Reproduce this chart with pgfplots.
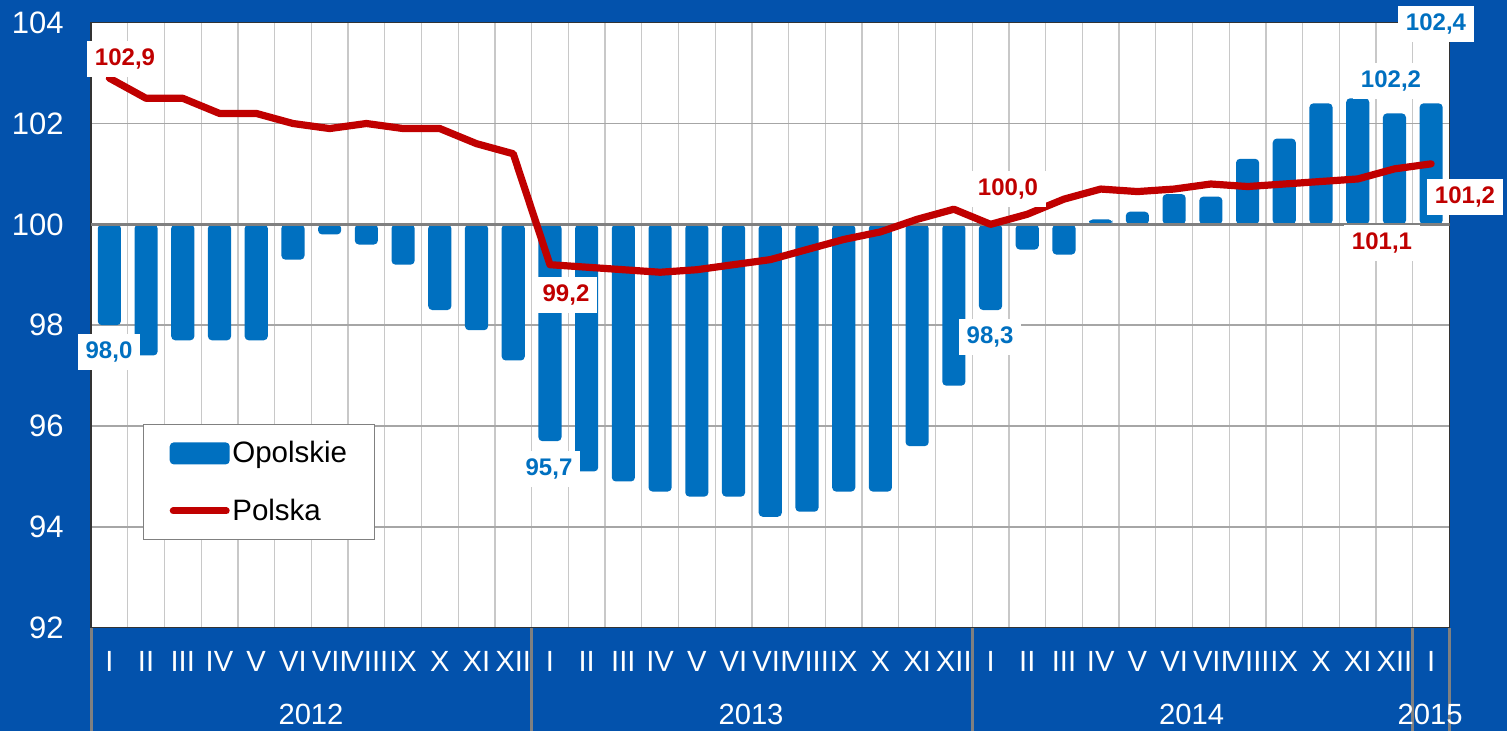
\documentclass[border=0pt]{standalone}
\usepackage{fontspec}
\setmainfont{Liberation Sans}
\usepackage{pgfplots}
\pgfplotsset{compat=1.18}
\definecolor{bgblue}{HTML}{0352AC}
\definecolor{barblue}{HTML}{0070C0}
\definecolor{linered}{HTML}{C00000}
\definecolor{gridgray}{HTML}{C8C8C8}
\definecolor{hgrid}{HTML}{A6A6A6}
\definecolor{basegray}{HTML}{808080}
\begin{document}
\begin{tikzpicture}[x=1pt,y=1pt]
\fill[bgblue] (0,0) rectangle (753.5,365.5);
\begin{axis}[
  at={(45.5pt,51.65pt)}, anchor=south west,
  scale only axis, width=679.25pt, height=302.5pt,
  xmin=-0.5, xmax=36.5, ymin=-8, ymax=4,
  y filter/.expression={y-100},
  axis background/.style={fill=white},
  axis line style={draw=black!80, line width=0.8pt},
  xtick={0,...,36},
  xticklabels={I,II,III,IV,V,VI,VII,VIII,IX,X,XI,XII,I,II,III,IV,V,VI,VII,VIII,IX,X,XI,XII,I,II,III,IV,V,VI,VII,VIII,IX,X,XI,XII,I},
  minor xtick={0.5,1.5,...,35.5},
  xminorgrids=true,
  minor grid style={gridgray, line width=0.65pt},
  ytick={-8,-6,...,4},
  yticklabels={92,94,96,98,100,102,104},
  ymajorgrids=true,
  major grid style={hgrid, line width=0.8pt},
  major tick length=0pt, minor tick length=0pt,
  tick style={draw=none},
  xticklabel style={font=\fontsize{14.6}{14.6}\selectfont, text=white, anchor=base, inner sep=0pt, yshift=-22pt},
  yticklabel style={font=\fontsize{15.5}{15.5}\selectfont, text=white, anchor=east, inner sep=0pt, xshift=-13.5pt},
  legend style={at={(0.0383,0.3366)}, anchor=north west, draw=basegray, line width=0.6pt, fill=white,
    font=\fontsize{14.75}{14.75}\selectfont, inner xsep=11.25pt, inner ysep=0pt, row sep=0pt,
    nodes={inner sep=0pt, minimum height=28.75pt},
    /tikz/every odd column/.append style={column sep=-0.5pt}},
  legend cell align=left,
]
\addplot[ybar, bar width=0.63, bar shift=0pt, fill=barblue, draw=none, rounded corners=2pt,
  legend image code/.code={\fill[barblue, rounded corners=2pt] (0pt,-5.5pt) rectangle (30pt,5.5pt);}]
coordinates {
(0,98.0) (1,97.4) (2,97.7) (3,97.7) (4,97.7) (5,99.3) (6,99.8) (7,99.6) (8,99.2) (9,98.3) (10,97.9) (11,97.3)
(12,95.7) (13,95.1) (14,94.9) (15,94.7) (16,94.6) (17,94.6) (18,94.2) (19,94.3) (20,94.7) (21,94.7) (22,95.6) (23,96.8)
(24,98.3) (25,99.5) (26,99.4) (27,100.1) (28,100.25) (29,100.6) (30,100.55) (31,101.3) (32,101.7) (33,102.4) (34,102.5) (35,102.2)
(36,102.4)};
\addlegendentry{Opolskie\hspace*{2.5pt}}
\addplot[forget plot, basegray, line width=1.6pt] coordinates {(-0.5,100) (36.5,100)};
\addplot[linered, line width=3.6pt, line join=round, line cap=round, mark=none,
  legend image code/.code={\draw[linered, line width=3.5pt, line cap=round] (1.75pt,0pt) -- (28.25pt,0pt); \path (0pt,0pt) (30pt,0pt);}]
coordinates {
(0,102.9) (1,102.5) (2,102.5) (3,102.2) (4,102.2) (5,102.0) (6,101.9) (7,102.0) (8,101.9) (9,101.9) (10,101.6) (11,101.4)
(12,99.2) (13,99.15) (14,99.1) (15,99.05) (16,99.1) (17,99.2) (18,99.3) (19,99.5) (20,99.7) (21,99.85) (22,100.1) (23,100.3)
(24,100.0) (25,100.2) (26,100.5) (27,100.7) (28,100.65) (29,100.7) (30,100.8) (31,100.75) (32,100.8) (33,100.85) (34,100.9) (35,101.1)
(36,101.2)};
\addlegendentry{Polska}
\end{axis}
% year separators below the plot
\foreach \xx in {45.5,265.8,486.1,706.4,724.75}
  \draw[basegray, line width=1.5pt] (\xx,0) -- (\xx,51.65);
% year labels
\foreach \xx/\yr in {155.5/2012,375.5/2013,595.8/2014,715/2015}
  \node[anchor=base, text=white, inner sep=0pt, font=\fontsize{14.6}{14.6}\selectfont] at (\xx,3) {\yr};
% data labels
\tikzset{dl/.style={anchor=base, fill=white, inner xsep=3.75pt, inner ysep=3.8pt, font=\bfseries\fontsize{12}{12}\selectfont}}
\node[dl, text=linered] at (62.5,332.7) {102,9};
\node[dl, text=barblue] at (54.5,186.2) {98,0};
\node[dl, text=linered] at (283,214.7) {99,2};
\node[dl, text=barblue] at (274.5,127.7) {95,7};
\node[dl, text=barblue] at (495,193.7) {98,3};
\node[dl, text=linered] at (504,267.7) {100,0};
\node[dl, text=barblue] at (718,350.2) {102,4};
\node[dl, text=barblue] at (695.5,321.7) {102,2};
\node[dl, text=linered] at (691,240.7) {101,1};
\node[dl, text=linered] at (732.5,263.7) {101,2};
\pgfresetboundingbox
\path[use as bounding box] (0,0) rectangle (753.5,365.5);
\end{tikzpicture}
\end{document}
